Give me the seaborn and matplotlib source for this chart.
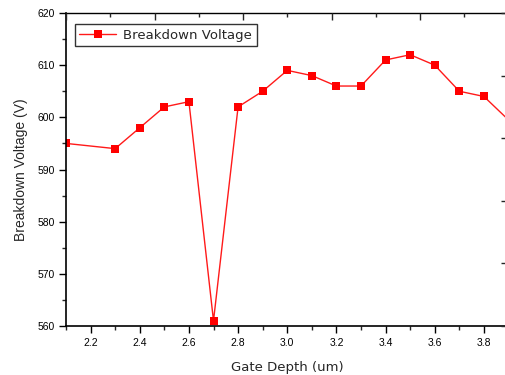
import matplotlib
matplotlib.use("Agg")
import matplotlib.pyplot as plt
from matplotlib.ticker import MultipleLocator
import seaborn as sns
import pandas as pd

gate_depth = [2.1, 2.3, 2.4, 2.5, 2.6, 2.7, 2.8, 2.9, 3.0, 3.1, 3.2, 3.3, 3.4, 3.5, 3.6, 3.7, 3.8, 3.9]
breakdown_voltage = [595, 594, 598, 602, 603, 561, 602, 605, 609, 608, 606, 606, 611, 612, 610, 605, 604, 599.5]
series_name = "Breakdown Voltage"
x_ticks = [2.2, 2.4, 2.6, 2.8, 3.0, 3.2, 3.4, 3.6, 3.8]
y_ticks = [560, 570, 580, 590, 600, 610, 620]

sns.set_style("ticks")
plt.rcParams['font.family'] = ['Liberation Sans', 'DejaVu Sans']

df = pd.DataFrame({"Gate Depth": gate_depth, "V": breakdown_voltage})

fig = plt.figure(figsize=(5.05, 3.75), dpi=100)
ax = fig.add_axes([66 / 505, 1 - 326 / 375, (508.5 - 66) / 505, (326 - 13) / 375])

sns.lineplot(data=df, x="Gate Depth", y="V", ax=ax, color="#ff1a1a", linewidth=1.0,
             marker="s", markersize=5.5, markeredgewidth=0, markerfacecolor="#ff0000",
             label=series_name)

ax.set_xlim(2.1, 3.9)
ax.set_ylim(560, 620)
ax.set_xticks(x_ticks)
ax.set_xticklabels([f"{t:.1f}" for t in x_ticks])
ax.set_yticks(y_ticks)
ax.set_yticklabels([str(t) for t in y_ticks])
ax.xaxis.set_minor_locator(MultipleLocator(0.1))
ax.yaxis.set_minor_locator(MultipleLocator(5))
ax.tick_params(axis="both", which="major", direction="out", length=5, width=1, labelsize=7.5, colors="black")
ax.tick_params(axis="both", which="minor", direction="out", length=3, width=1)
ax.tick_params(axis="x", pad=4)
ax.tick_params(axis="y", pad=3)
for s in ax.spines.values():
    s.set_linewidth(1.2)
    s.set_color("black")
ax.spines["top"].set_linewidth(1.0)

ax.set_xlabel("Gate Depth (um)", fontsize=9.5, labelpad=9, family=['DejaVu Sans'])
ax.set_ylabel("Breakdown Voltage (V)", fontsize=10, labelpad=7)

# secondary top/right frame ticks
axt = ax.twiny()
axt.set_xlim(0, 5)
axt.xaxis.set_major_locator(MultipleLocator(1))
axt.xaxis.set_minor_locator(MultipleLocator(0.5))
axt.tick_params(axis="x", which="major", direction="in", length=5, width=1, labeltop=False)
axt.tick_params(axis="x", which="minor", direction="in", length=3, width=1)
axr = ax.twinx()
axr.set_ylim(0, 5)
axr.yaxis.set_major_locator(MultipleLocator(1))
axr.tick_params(axis="y", which="major", direction="in", length=6, width=1, labelright=False)
for a in (axt, axr):
    a.grid(False)
    for s in a.spines.values():
        s.set_visible(False)

leg = ax.legend(loc="upper left", bbox_to_anchor=(0.02, 0.965), frameon=True,
                prop={"family": "DejaVu Sans", "size": 9.5},
                fancybox=False, edgecolor="black", handlelength=2.8, borderpad=0.35,
                handletextpad=0.5, borderaxespad=0.0)
leg.get_frame().set_linewidth(1.0)

fig.savefig("out.png", dpi=100)
